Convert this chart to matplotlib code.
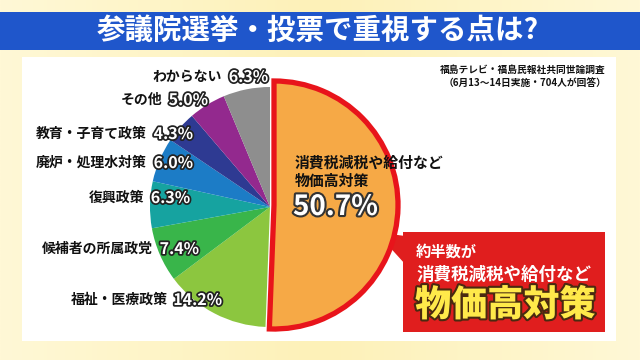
import matplotlib
matplotlib.use("Agg")
import matplotlib.pyplot as plt
import matplotlib.patheffects as pe
from matplotlib.patches import Rectangle, Polygon
import numpy as np

plt.rcParams['font.family'] = ['Noto Sans CJK JP', 'DejaVu Sans']

title = "参議院選挙・投票で重視する点は?"
categories = ["消費税減税や給付など物価高対策", "福祉・医療政策", "候補者の所属政党", "復興政策",
              "廃炉・処理水対策", "教育・子育て政策", "その他", "わからない"]
values = [50.7, 14.2, 7.4, 6.3, 6.0, 4.3, 5.0, 6.3]
colors = ["#F6A946", "#8CC63F", "#39B54A", "#16A3A0", "#1C7CC6", "#2E3A92", "#93298E", "#8E8E8E"]
source_lines = ["福島テレビ・福島民報社共同世論調査", "（6月13～14日実施・704人が回答）"]
callout_lines = ["約半数が", "消費税減税や給付など", "物価高対策"]

fig = plt.figure(figsize=(6.4, 3.6), dpi=100)
ax = fig.add_axes([0, 0, 1, 1])

# background
grad = np.linspace(0, 1, 256).reshape(1, -1)
ax.imshow(np.vstack([grad, grad]), extent=(0, 640, 360, 0), aspect='auto',
          cmap=matplotlib.colors.LinearSegmentedColormap.from_list("bg", ["#FFF8D6", "#FDF1B8", "#FFF8D6"]),
          zorder=0)
ax.add_patch(Rectangle((22, 57), 594, 284, facecolor="white", edgecolor="none", zorder=1))
ax.add_patch(Rectangle((0, 12), 640, 38, facecolor="#1F56CB", edgecolor="none", zorder=2))
ax.text(318, 31, title, color="white", fontsize=20.5, fontweight="bold", ha="center", va="center", zorder=3)

# pie
wedges, _ = ax.pie(values, colors=colors, startangle=-90, counterclock=True,
                   radius=120, center=(270, 207), frame=True,
                   wedgeprops=dict(linewidth=0, zorder=4))
for w in wedges:
    w.set_zorder(4)
big = wedges[0]
big.set_radius(124)
big.set_center((274, 205))
big.set_edgecolor("#E8141B")
big.set_linewidth(3.8)
big.set_zorder(6)

# pointer + callout box
ax.add_patch(Polygon([(376, 232), (405, 236), (405, 264)], closed=True,
                     facecolor="#E01E1E", edgecolor="none", zorder=5))
ax.add_patch(Rectangle((403, 232), 202, 100, facecolor="#E01E1E", edgecolor="none", zorder=5))
ax.text(416, 252, callout_lines[0], color="white", fontsize=11, fontweight="bold", ha="left", va="center", zorder=7)
ax.text(416, 275, callout_lines[1], color="white", fontsize=12.6, fontweight="bold", ha="left", va="center", zorder=7)
ax.text(415, 305, callout_lines[2], color="#FFE94A", fontsize=26, fontweight="heavy", ha="left", va="center", zorder=7,
        path_effects=[pe.withStroke(linewidth=3, foreground="#4A2A10")])

# text inside big wedge
ax.text(295, 163, "消費税減税や給付など", color="#111111", fontsize=10.7, fontweight="bold", ha="left", va="center", zorder=7)
ax.text(295, 181, "物価高対策", color="#111111", fontsize=10.7, fontweight="bold", ha="left", va="center", zorder=7)
ax.text(293, 207, f"{values[0]}%", color="white", fontsize=20, fontweight="bold", ha="left", va="center", zorder=7,
        path_effects=[pe.withStroke(linewidth=3, foreground="#333333")])

# source note
ax.text(606, 70, source_lines[0], color="#111111", fontsize=7, fontweight="bold", ha="right", va="center", zorder=7)
ax.text(606, 83, source_lines[1], color="#111111", fontsize=7, fontweight="bold", ha="right", va="center", zorder=7)

# outside labels: (index, right x of percent, y)
label_pos = {7: (268, 77), 6: (208, 100), 5: (193, 134), 4: (193, 163),
             3: (190, 198), 2: (199, 249), 1: (222, 300)}
for i, (xr, yc) in label_pos.items():
    ax.text(xr, yc, f"{values[i]}%", color="white", fontsize=11.5, fontweight="bold",
            ha="right", va="center", zorder=7,
            path_effects=[pe.withStroke(linewidth=2.5, foreground="#222222")])
    w = 46 if values[i] < 10 else 54
    ax.text(xr - w, yc, categories[i], color="#111111", fontsize=10, fontweight="bold",
            ha="right", va="center", zorder=7)

ax.set_xlim(0, 640)
ax.set_ylim(360, 0)
ax.set_aspect('auto')
ax.axis('off')
fig.savefig("out.png", dpi=100)
